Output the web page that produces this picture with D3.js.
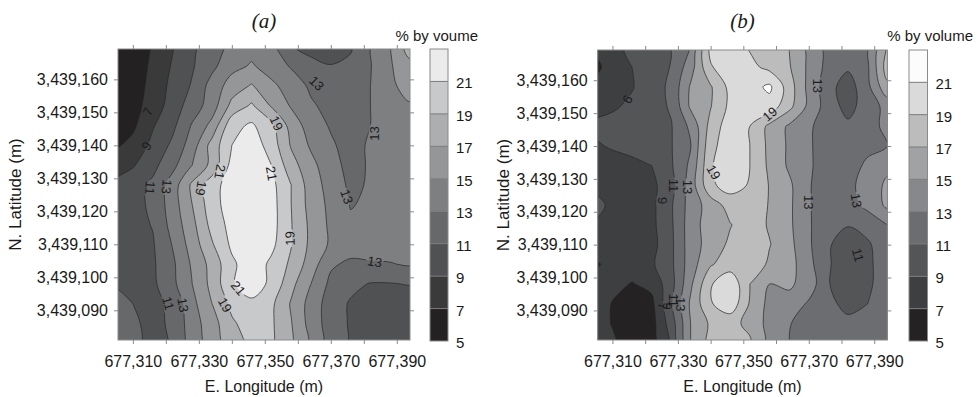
<!DOCTYPE html>
<html><head><meta charset="utf-8">
<script src="https://cdn.jsdelivr.net/npm/d3@7"></script>
<style>
body{margin:0;background:#fff;}
svg{display:block;font-family:"Liberation Sans",Arial,sans-serif;}
</style></head><body>
<svg id="chart" width="979" height="397"></svg>
<script>
// ---- grid node coordinates (m) ----
const eastings = [677304,677310,677316,677322,677328,677334,677340,677346,677352,677358,677364,677370,677376,677382,677388,677394];
const northings = [3439170,3439164,3439158,3439152,3439146,3439140,3439134,3439128,3439122,3439116,3439110,3439104,3439098,3439092,3439086,3439080];

// ---- panel (a) values, % by volume (rows north -> south, columns west -> east) ----
const volumeA = [
 [5.2,6.0,7.1,8.8,10.5,12.2,13.4,14.3,13.5,11.1,10.3,9.9,10.7,12.9,15.0,18.0],
 [5.3,6.1,7.3,9.2,10.8,12.5,14.4,15.2,14.2,12.8,11.6,11.1,11.5,12.9,14.8,16.4],
 [5.5,6.2,7.5,9.6,11.2,13.8,15.9,17.2,15.4,14.2,12.6,11.9,12.0,13.0,14.6,15.8],
 [5.8,6.4,7.7,10.0,11.9,14.0,17.6,19.3,16.8,14.8,13.3,12.3,11.9,13.0,14.0,14.8],
 [5.9,6.6,8.8,10.5,13.2,15.6,20.4,21.3,19.6,16.2,14.0,12.8,12.0,13.0,13.9,14.5],
 [6.6,7.6,9.5,11.4,14.0,17.8,21.0,22.2,20.1,16.8,14.7,13.3,12.2,13.3,14.0,14.5],
 [8.0,8.8,10.4,12.4,15.0,17.6,21.7,23.0,21.0,17.8,15.6,13.7,12.4,13.2,14.0,14.5],
 [9.4,10.2,11.4,13.9,17.4,20.2,22.0,23.2,21.6,19.0,16.0,14.2,12.6,13.2,14.0,14.5],
 [9.7,10.3,11.4,14.0,17.0,20.2,22.0,23.2,21.8,19.0,16.2,14.5,12.9,13.3,14.0,14.5],
 [9.8,10.3,11.1,13.7,16.4,19.7,21.7,23.0,21.8,19.1,16.5,14.6,13.3,13.5,14.0,14.5],
 [9.8,10.2,10.8,13.1,15.9,18.8,21.4,22.7,21.5,19.1,16.5,14.7,14.0,13.9,13.9,14.0],
 [10.0,10.3,10.7,12.6,15.3,17.7,20.6,22.2,20.6,18.6,16.0,13.3,12.6,12.8,12.9,13.2],
 [10.8,10.4,10.6,12.5,15.0,17.6,20.8,22.0,20.6,17.6,15.0,12.5,11.5,10.9,10.9,11.1],
 [11.9,11.0,10.5,11.4,14.4,17.0,19.5,20.6,19.4,16.8,14.2,12.0,10.8,10.0,9.8,9.8],
 [12.0,11.3,10.5,11.3,14.1,16.1,18.7,19.9,19.3,17.1,14.2,12.0,10.8,9.9,9.8,9.5],
 [12.0,11.4,10.5,11.1,13.8,15.9,18.1,19.4,19.3,17.3,14.6,12.0,10.8,10.0,9.5,9.8]
];

// ---- panel (b) values ----
const volumeB = [
 [7.4,8.5,9.4,10.2,10.9,13.1,19.6,20.0,18.8,18.1,17.0,14.4,12.3,11.6,12.7,17.2],
 [6.2,8.0,9.0,10.0,11.1,14.2,18.8,20.3,19.6,18.4,17.2,14.6,12.3,11.3,12.7,18.0],
 [7.6,8.2,8.9,9.9,11.5,15.3,16.8,19.6,20.2,21.4,18.0,14.4,11.7,10.0,12.5,16.5],
 [8.4,8.8,9.3,10.3,11.2,15.4,16.9,19.5,20.3,20.2,17.6,14.5,12.0,10.3,12.0,13.6],
 [9.3,9.5,9.9,10.5,10.9,13.5,17.7,20.2,19.0,16.5,14.7,13.3,12.0,11.4,12.7,13.2],
 [8.7,9.2,9.6,10.2,10.9,13.0,18.4,20.2,19.0,16.5,14.7,13.2,12.2,12.0,12.6,13.0],
 [8.0,8.2,8.5,9.0,10.8,13.5,18.8,20.2,19.0,16.6,14.7,13.2,12.3,12.3,13.3,14.5],
 [8.0,8.0,8.3,8.5,10.3,14.0,18.6,19.9,18.8,16.9,15.4,13.1,12.3,12.5,13.8,15.4],
 [10.2,8.3,8.2,8.5,10.8,13.9,15.9,17.8,18.0,16.9,15.4,13.1,12.3,12.2,13.5,15.4],
 [8.6,8.2,8.0,8.5,10.7,14.1,16.0,16.9,18.0,16.8,15.4,13.2,11.8,11.1,11.8,13.0],
 [8.0,7.8,7.8,8.3,10.6,14.1,15.8,17.4,18.0,17.1,15.6,13.3,11.2,10.0,10.7,12.3],
 [6.6,7.6,7.8,8.7,10.6,14.1,16.8,18.0,18.6,16.6,15.8,13.6,11.2,9.8,10.5,12.3],
 [8.0,7.5,6.9,7.5,10.3,14.7,18.8,20.6,17.0,15.0,15.3,14.2,11.1,9.8,10.5,12.4],
 [8.2,6.9,6.0,6.5,10.8,15.4,18.8,20.4,16.8,14.4,14.3,12.7,11.5,10.4,11.0,12.4],
 [8.0,6.9,5.8,6.2,10.0,15.1,17.3,17.6,16.5,14.3,13.1,12.2,11.8,11.5,11.8,12.3],
 [8.2,7.3,5.9,6.0,9.2,15.1,17.6,18.1,17.3,14.3,13.0,12.2,11.9,11.9,11.8,12.2]
];

// ---- levels, ticks ----
const levels = [5,7,9,11,13,15,17,19,21,23];
const colorbarLabels = [5,7,9,11,13,15,17,19,21];
const xTickValues = [677310,677320,677330,677340,677350,677360,677370,677380,677390];
const xTickLabelValues = [677310,677330,677350,677370,677390];
const yTickValues = [3439090,3439100,3439110,3439120,3439130,3439140,3439150,3439160];

// ---- contour labels (text, easting, northing, angle) ----
const labelTextA = ["7","9","11","13","19","21","21","19","13","13","13","19","13","21","19","11","13"];
const labelEastA = [677314.6,677314.2,677315.2,677320.2,677330.6,677336.4,677352.0,677353.5,677365.7,677383.3,677374.8,677357.6,677383.3,677341.9,677337.9,677320.7,677325.2];
const labelNorthA = [3439150.2,3439139.8,3439127.1,3439127.5,3439127.0,3439132.0,3439131.5,3439146.7,3439158.8,3439143.6,3439124.4,3439111.8,3439104.7,3439096.7,3439091.6,3439092.1,3439091.6];
const labelAngleA = [-65,-55,95,95,100,100,80,65,45,-90,70,-92,10,50,60,75,80];

const labelTextB = ["9","19","13","19","13","11","9","13","13","11","7","9","11","13"];
const labelEastB = [677314.6,677358.1,677372.8,677340.9,677332.8,677328.7,677325.2,677369.8,677384.5,677385.0,677325.3,677326.8,677328.6,677330.8];
const labelNorthB = [3439154.2,3439149.7,3439158.3,3439132.0,3439127.5,3439128.0,3439123.4,3439122.9,3439123.4,3439106.8,3439091.3,3439091.3,3439093.1,3439091.9];
const labelAngleB = [120,-40,90,60,90,90,90,90,80,75,90,90,90,90];

const shadesA = ['#242122','#3a3a3b','#505152','#67686a','#7e7f81','#959698','#adaeb0','#c8c9ca','#ebebeb'];
const shadesB = ['#252223','#3e3f41','#545557','#6b6d70','#86888b','#a1a2a4','#bcbcbd','#dadada','#fcfcfc'];

const eastDomain = [677305.5, 677394];
const northDomain = [3439081, 3439169.2];

const svg = d3.select("#chart");
const defs = svg.append("defs");

function drawPanel(cfg) {
  const g = svg.append("g");
  const x = d3.scaleLinear().domain(eastDomain).range([cfg.x0, cfg.x1]);
  const y = d3.scaleLinear().domain(northDomain).range([cfg.y1, cfg.y0]);
  const nx = eastings.length, ny = northings.length;
  const dE = eastings[1] - eastings[0], dN = northings[0] - northings[1];
  const thresholds = levels.slice(0, -1);
  const contours = d3.contours().size([nx, ny]).thresholds(thresholds)(cfg.grid.flat());
  const line = d3.line().curve(d3.curveCatmullRomClosed.alpha(0.5));
  const toPx = ([cx, cy]) => [x(eastings[0] + (cx - 0.5) * dE), y(northings[0] - (cy - 0.5) * dN)];
  const pathOf = geom => geom.coordinates.map(poly => poly.map(ring => line(ring.slice(0, -1).map(toPx))).join("")).join("");

  defs.append("clipPath").attr("id", cfg.id + "clip")
    .append("rect").attr("x", cfg.x0).attr("y", cfg.y0).attr("width", cfg.x1 - cfg.x0).attr("height", cfg.y1 - cfg.y0);

  const plot = g.append("g").attr("clip-path", `url(#${cfg.id}clip)`);
  plot.append("rect").attr("x", cfg.x0).attr("y", cfg.y0).attr("width", cfg.x1 - cfg.x0).attr("height", cfg.y1 - cfg.y0).attr("fill", cfg.shades[0]);
  plot.selectAll("path.fill").data(contours).join("path").attr("class", "fill")
    .attr("d", pathOf).attr("fill", (d, i) => cfg.shades[i]).attr("fill-rule", "evenodd").attr("stroke", "none");

  const lbls = cfg.labelText.map((t, i) => ({t, px: x(cfg.labelEast[i]), py: y(cfg.labelNorth[i]), a: cfg.labelAngle[i]}));
  const mask = defs.append("mask").attr("id", cfg.id + "mask").attr("maskUnits", "userSpaceOnUse")
    .attr("x", 0).attr("y", 0).attr("width", 979).attr("height", 397);
  mask.append("rect").attr("x", 0).attr("y", 0).attr("width", 979).attr("height", 397).attr("fill", "#fff");

  const lineG = plot.append("g").attr("mask", `url(#${cfg.id}mask)`);
  lineG.selectAll("path").data(contours.slice(1)).join("path")
    .attr("d", pathOf).attr("fill", "none").attr("stroke", "#262626").attr("stroke-width", 0.7);

  const lg = plot.append("g");
  lbls.forEach(l => {
    const t = lg.append("text").attr("transform", `translate(${l.px},${l.py}) rotate(${l.a})`)
      .attr("text-anchor", "middle").attr("dominant-baseline", "central")
      .attr("font-size", 13).attr("fill", "#1c1c1c").text(l.t);
    const w = t.node().getComputedTextLength() + 3;
    mask.append("rect").attr("x", -w / 2).attr("y", -6).attr("width", w).attr("height", 12)
      .attr("transform", `translate(${l.px},${l.py}) rotate(${l.a})`).attr("fill", "#000");
  });

  g.append("rect").attr("x", cfg.x0).attr("y", cfg.y0).attr("width", cfg.x1 - cfg.x0).attr("height", cfg.y1 - cfg.y0)
    .attr("fill", "none").attr("stroke", "#8a8a8a").attr("stroke-width", 1);

  const fmt = d3.format(",");
  const styleAxis = sel => {
    sel.select(".domain").remove();
    sel.selectAll(".tick line").attr("stroke", "#8a8a8a");
    sel.selectAll("text").attr("font-size", 16).attr("fill", "#1a1a1a").attr("font-family", '"Liberation Sans",Arial,sans-serif');
  };
  g.append("g").attr("transform", `translate(0,${cfg.y1})`)
    .call(d3.axisBottom(x).tickValues(xTickValues).tickSize(4).tickPadding(12)
      .tickFormat(v => xTickLabelValues.includes(v) ? fmt(v) : "")).call(styleAxis);
  g.append("g").attr("transform", `translate(0,${cfg.y0})`)
    .call(d3.axisTop(x).tickValues(xTickValues).tickSize(4).tickFormat(() => "")).call(styleAxis);
  g.append("g").attr("transform", `translate(${cfg.x0},0)`)
    .call(d3.axisLeft(y).tickValues(yTickValues).tickSize(4).tickPadding(6).tickFormat(fmt)).call(styleAxis);
  g.append("g").attr("transform", `translate(${cfg.x1},0)`)
    .call(d3.axisRight(y).tickValues(yTickValues).tickSize(4).tickFormat(() => "")).call(styleAxis);

  g.append("text").attr("x", (cfg.x0 + cfg.x1) / 2).attr("y", 392).attr("text-anchor", "middle")
    .attr("font-size", 16).attr("fill", "#1a1a1a").text("E. Longitude (m)");
  g.append("text").attr("transform", `translate(${cfg.ytitleX},${(cfg.y0 + cfg.y1) / 2}) rotate(-90)`)
    .attr("text-anchor", "middle").attr("font-size", 17).attr("fill", "#1a1a1a").text("N. Latitude (m)");
  g.append("text").attr("x", (cfg.x0 + cfg.x1) / 2).attr("y", 28).attr("text-anchor", "middle")
    .attr("font-family", '"Liberation Serif","Times New Roman",serif').attr("font-style", "italic")
    .attr("font-size", 21).attr("fill", "#1a1a1a").text(cfg.title);

  const cy = d3.scaleLinear().domain([levels[0], levels[levels.length - 1]]).range([cfg.y1 + 1, cfg.y0]);
  const cb = g.append("g");
  cb.selectAll("rect.band").data(levels.slice(0, -1)).join("rect").attr("class", "band")
    .attr("x", cfg.cbX).attr("width", cfg.cbW)
    .attr("y", d => cy(d + 2)).attr("height", d => cy(d) - cy(d + 2))
    .attr("fill", (d, i) => cfg.shades[i]);
  cb.selectAll("line.sep").data(levels.slice(1, -1)).join("line").attr("class", "sep")
    .attr("x1", cfg.cbX).attr("x2", cfg.cbX + cfg.cbW).attr("y1", d => cy(d)).attr("y2", d => cy(d))
    .attr("stroke", "#7a7a7a").attr("stroke-width", 1);
  cb.append("rect").attr("x", cfg.cbX).attr("y", cy(levels[levels.length - 1])).attr("width", cfg.cbW)
    .attr("height", cy(levels[0]) - cy(levels[levels.length - 1])).attr("fill", "none").attr("stroke", "#8a8a8a");
  cb.selectAll("text.cl").data(colorbarLabels).join("text").attr("class", "cl")
    .attr("x", cfg.cbX + cfg.cbW + 8).attr("y", d => cy(d) + 1.5).attr("dominant-baseline", "central")
    .attr("font-size", 15).attr("fill", "#1a1a1a").text(d => d);
  g.append("text").attr("x", cfg.unitRight).attr("y", 41).attr("text-anchor", "end")
    .attr("font-size", 15).attr("fill", "#1a1a1a").text(cfg.unit);
}

drawPanel({id: "a", grid: volumeA, shades: shadesA, x0: 118, x1: 410, y0: 49, y1: 340,
  labelText: labelTextA, labelEast: labelEastA, labelNorth: labelNorthA, labelAngle: labelAngleA,
  title: "(a)", unit: "% by voume", cbX: 430, cbW: 18, unitRight: 478, ytitleX: 21});
drawPanel({id: "b", grid: volumeB, shades: shadesB, x0: 597.7, x1: 887.3, y0: 50, y1: 340,
  labelText: labelTextB, labelEast: labelEastB, labelNorth: labelNorthB, labelAngle: labelAngleB,
  title: "(b)", unit: "% by volume", cbX: 909, cbW: 18.5, unitRight: 973, ytitleX: 509});
</script>
</body></html>
